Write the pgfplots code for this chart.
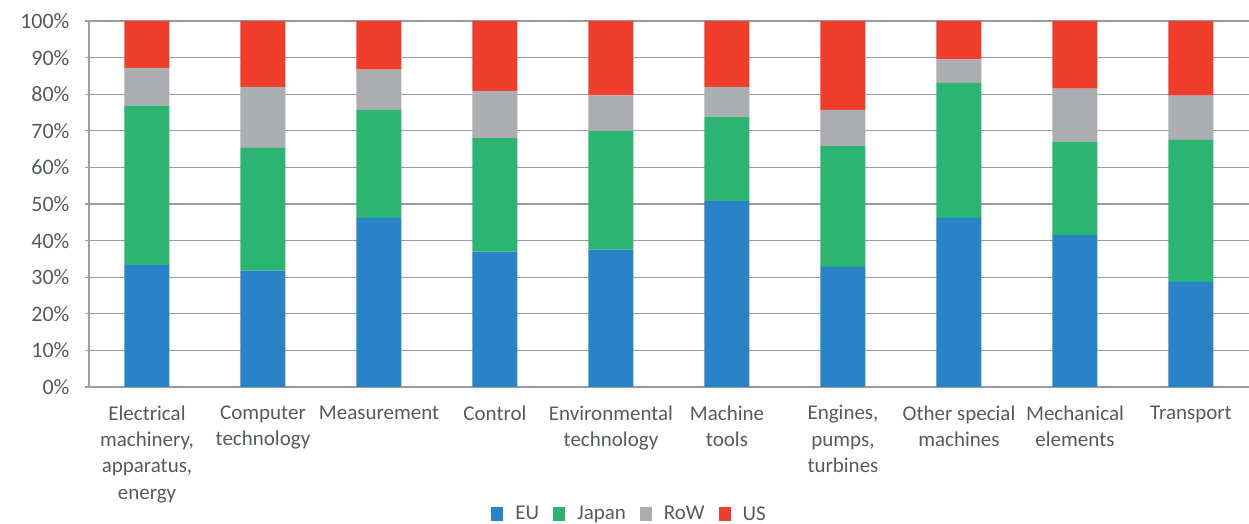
\documentclass[border=0pt]{standalone}
\usepackage{pgfplots}
\pgfplotsset{compat=1.18}
\usepackage{fontspec}
\setmainfont{Carlito}
\definecolor{cEU}{HTML}{2884C6}
\definecolor{cJP}{HTML}{2CB571}
\definecolor{cRW}{HTML}{ABADB0}
\definecolor{cUS}{HTML}{EF3E2C}
\definecolor{gridc}{HTML}{9A9CA0}
\definecolor{txt}{HTML}{58595B}
\begin{document}
\begin{tikzpicture}
\useasboundingbox (0,0) rectangle (1249pt,524pt);
\begin{axis}[
  at={(89pt,137pt)}, anchor=south west,
  scale only axis, width=1160pt, height=366pt,
  xmin=-0.5, xmax=9.5, ymin=0, ymax=100,
  ybar stacked, bar width=45pt,
  axis x line*=bottom, axis y line*=left,
  axis line style={draw=gridc, line width=1.3pt, -},
  ymajorgrids, grid style={draw=gridc, line width=1.3pt},
  ytick={0,10,...,100},
  yticklabels={0\%,10\%,20\%,30\%,40\%,50\%,60\%,70\%,80\%,90\%,100\%},
  major tick length=4pt, tick align=outside,
  ytick style={draw=gridc, line width=1.3pt},
  xtick style={draw=none},
  xtick={0,...,9},
  xticklabels={{Electrical\\machinery,\\apparatus,\\energy},{Computer\\technology},{Measurement},{Control},{Environmental\\technology},{Machine\\tools},{Engines,\\pumps,\\turbines},{Other special\\machines},{Mechanical\\elements},{Transport}},
  xticklabel style={align=center, font=\fontsize{21}{26.3}\selectfont, text=txt, yshift=-11pt},
  yticklabel style={font=\fontsize{22}{24}\selectfont, text=txt, xshift=-12pt},
  legend columns=4,
  legend style={at={(0.466,-0.347)}, anchor=center, draw=none, fill=none,
    font=\fontsize{21}{24}\selectfont, text=txt,
    /tikz/every even column/.append style={column sep=12pt}},
  legend image code/.code={\fill[#1] (0pt,-7pt) rectangle (12pt,7pt); \path (22pt,0pt);},
]
\addplot[fill=cEU, draw=none] coordinates {(0,33.4) (1,31.8) (2,46.2) (3,37.0) (4,37.5) (5,50.8) (6,32.8) (7,46.2) (8,41.5) (9,28.7)};
\addplot[fill=cJP, draw=none] coordinates {(0,43.4) (1,33.5) (2,29.5) (3,31.0) (4,32.4) (5,23.1) (6,33.0) (7,36.9) (8,25.4) (9,38.8)};
\addplot[fill=cRW, draw=none] coordinates {(0,10.4) (1,16.7) (2,11.0) (3,12.9) (4,9.8) (5,8.1) (6,9.9) (7,6.4) (8,14.6) (9,12.1)};
\addplot[fill=cUS, draw=none] coordinates {(0,12.8) (1,18.0) (2,13.3) (3,19.1) (4,20.3) (5,18.0) (6,24.3) (7,10.5) (8,18.5) (9,20.4)};
\legend{EU,Japan,RoW,US}
\end{axis}
\end{tikzpicture}
\end{document}
